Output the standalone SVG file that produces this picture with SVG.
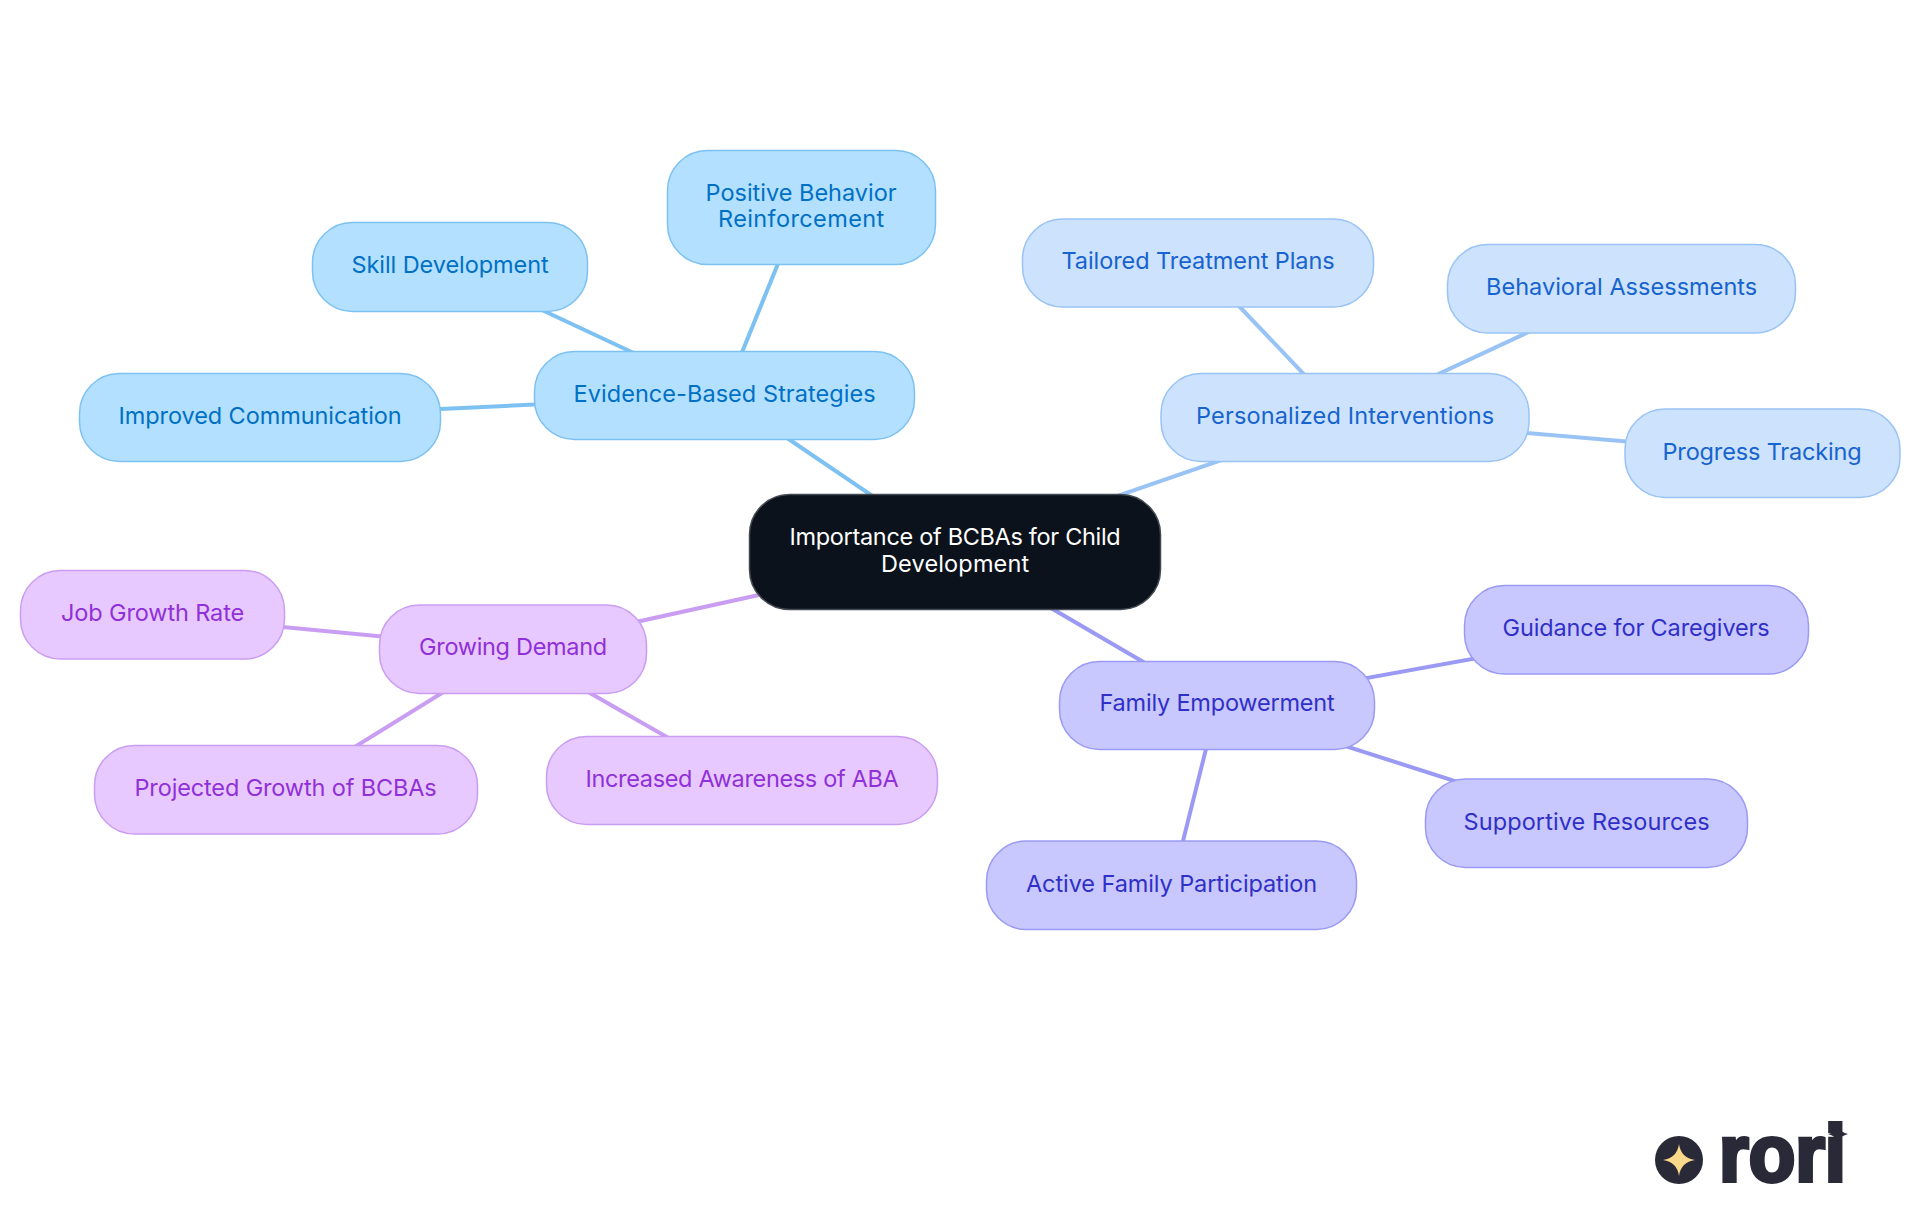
<svg xmlns="http://www.w3.org/2000/svg" width="1920" height="1215" viewBox="0 0 1920 1215">
<style>
text{font-family:"Inter","Noto Sans",sans-serif;font-size:23.5px;text-anchor:middle;letter-spacing:-.2px}
.c line{stroke-width:4;fill:none}
.ce line{stroke:#7dc1f2}.cp line{stroke:#99c3f5}.cf line{stroke:#9a9af5}.cg line{stroke:#c99df2}
.e rect{fill:#b3e0ff;stroke:#7dc1f2}.e text{fill:#0070c5}
.p rect{fill:#cce2fd;stroke:#99c3f5}.p text{fill:#1763cf}
.f rect{fill:#c8c8ff;stroke:#9a9af5}.f text{fill:#3030c8}
.g rect{fill:#e8c9ff;stroke:#c99df2}.g text{fill:#9030d8}
rect{stroke-width:1.5}
</style>
<rect width="1920" height="1215" fill="#fff"/>
<g id="connectors" class="c">
<g class="ce"><line x1="955" y1="552" x2="724.5" y2="395.5"/><line x1="724.5" y1="395.5" x2="801" y2="207"/><line x1="724.5" y1="395.5" x2="450" y2="267"/><line x1="724.5" y1="395.5" x2="260" y2="417.5"/></g>
<g class="cp"><line x1="955" y1="552" x2="1345" y2="417.5"/><line x1="1345" y1="417.5" x2="1198" y2="263"/><line x1="1345" y1="417.5" x2="1621" y2="289"/><line x1="1345" y1="417.5" x2="1762" y2="453"/></g>
<g class="cf"><line x1="955" y1="552" x2="1217" y2="705"/><line x1="1217" y1="705" x2="1636" y2="629.5"/><line x1="1217" y1="705" x2="1586" y2="823"/><line x1="1217" y1="705" x2="1172" y2="885"/></g>
<g class="cg"><line x1="955" y1="552" x2="513" y2="649"/><line x1="513" y1="649" x2="153" y2="614.5"/><line x1="513" y1="649" x2="286" y2="789.5"/><line x1="513" y1="649" x2="742" y2="780"/></g>
</g>
<g id="root"><rect x="749.5" y="494.5" width="411" height="115" rx="40" fill="#0b121b" stroke="#444a52"/><text x="955" y="545" fill="#fff" textLength="331">Importance of BCBAs for Child</text><text x="955" y="572" fill="#fff" textLength="148">Development</text></g>
<g id="evidence" class="e"><rect x="534.5" y="351.5" width="380" height="88" rx="40"/><text x="724.5" y="402" textLength="302">Evidence-Based Strategies</text></g>
<g id="positive" class="e"><rect x="667.5" y="150.5" width="268" height="114" rx="40"/><text x="801" y="201" textLength="191">Positive Behavior</text><text x="801" y="227" textLength="166">Reinforcement</text></g>
<g id="skill" class="e"><rect x="312.5" y="222.5" width="275" height="89" rx="40"/><text x="450" y="273" textLength="197">Skill Development</text></g>
<g id="improved" class="e"><rect x="79.5" y="373.5" width="361" height="88" rx="40"/><text x="260" y="424" textLength="283">Improved Communication</text></g>
<g id="personalized" class="p"><rect x="1161" y="373.5" width="368" height="88" rx="40"/><text x="1345" y="424" textLength="298">Personalized Interventions</text></g>
<g id="tailored" class="p"><rect x="1022.5" y="219" width="351" height="88" rx="40"/><text x="1198" y="268.5" textLength="273">Tailored Treatment Plans</text></g>
<g id="behavioral" class="p"><rect x="1447.5" y="244.5" width="348" height="88.5" rx="40"/><text x="1621.5" y="295" textLength="271">Behavioral Assessments</text></g>
<g id="progress" class="p"><rect x="1625" y="409" width="275" height="88.5" rx="40"/><text x="1762" y="459.5" textLength="199">Progress Tracking</text></g>
<g id="family" class="f"><rect x="1059.5" y="661.5" width="315" height="88" rx="40"/><text x="1217" y="710.5" textLength="235">Family Empowerment</text></g>
<g id="guidance" class="f"><rect x="1464.5" y="585.5" width="344" height="88.5" rx="40"/><text x="1636" y="636" textLength="267">Guidance for Caregivers</text></g>
<g id="supportive" class="f"><rect x="1425.5" y="779" width="322" height="88.5" rx="40"/><text x="1586.5" y="829.5" textLength="246">Supportive Resources</text></g>
<g id="active" class="f"><rect x="986.5" y="841" width="370" height="88.5" rx="40"/><text x="1171.5" y="891.5" textLength="291">Active Family Participation</text></g>
<g id="growing" class="g"><rect x="379.5" y="605" width="267" height="88.5" rx="40"/><text x="513" y="655" textLength="188">Growing Demand</text></g>
<g id="job" class="g"><rect x="20.5" y="570.5" width="264" height="88.5" rx="40"/><text x="152.5" y="621" textLength="183">Job Growth Rate</text></g>
<g id="projected" class="g"><rect x="94.5" y="745.5" width="383" height="88.5" rx="40"/><text x="285.5" y="796" textLength="302">Projected Growth of BCBAs</text></g>
<g id="increased" class="g"><rect x="546.5" y="736.5" width="391" height="88" rx="40"/><text x="742" y="786.5" textLength="313">Increased Awareness of ABA</text></g>
<g id="logo">
<circle cx="1679" cy="1160" r="24" fill="#2a2938"/>
<path d="M1679 1144 Q1681 1158 1695 1160 Q1681 1162 1679 1176 Q1677 1162 1663 1160 Q1677 1158 1679 1144Z" fill="#fcd88a"/>
<text x="1719" y="1181" stroke="#2a2938" stroke-width="4" style="font-family:'Liberation Sans',sans-serif;font-weight:700;font-size:80px;text-anchor:start;letter-spacing:0;fill:#2a2938" textLength="127" lengthAdjust="spacingAndGlyphs">rori</text>
<path d="M1838 1124 Q1839 1132 1848 1134 Q1839 1136 1838 1144 Q1837 1136 1828 1134 Q1837 1132 1838 1124Z" fill="#2a2938"/>
</g>
</svg>
